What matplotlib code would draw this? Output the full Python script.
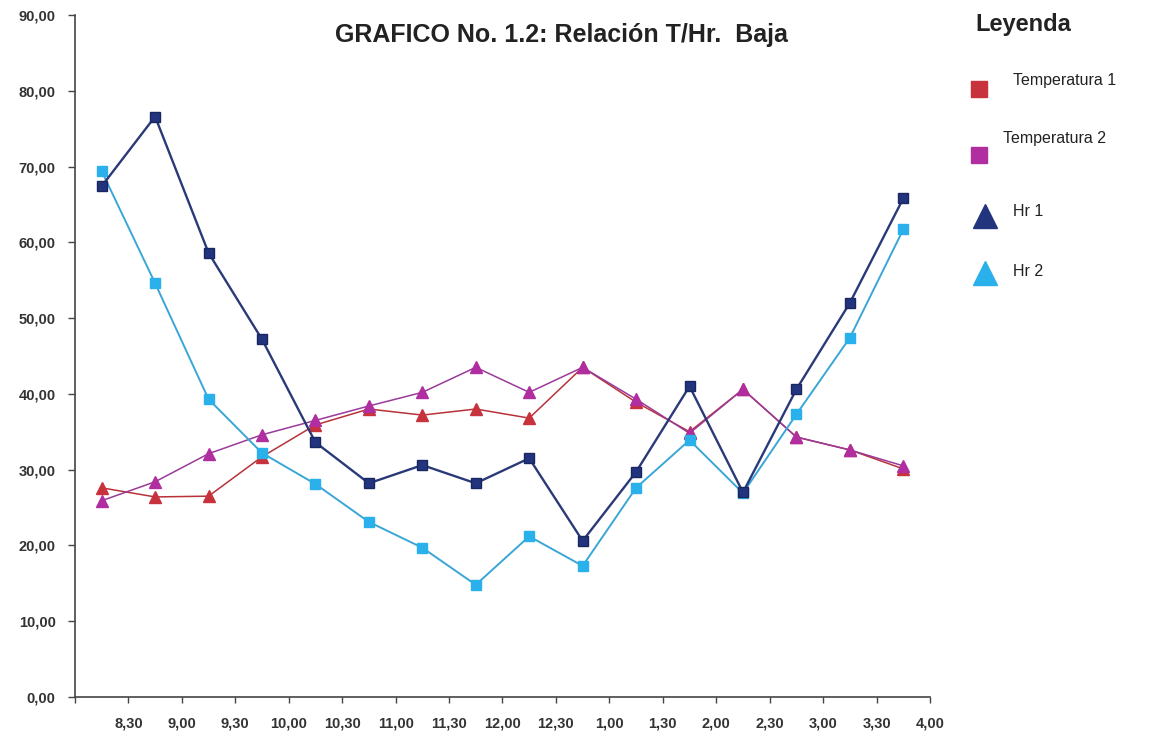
import matplotlib
matplotlib.use('Agg')
import matplotlib.pyplot as plt
import numpy as np

plt.rcParams['font.family'] = ['Liberation Sans', 'DejaVu Sans']

# datos
horas = ['8,30', '9,00', '9,30', '10,00', '10,30', '11,00', '11,30', '12,00',
         '12,30', '1,00', '1,30', '2,00', '2,30', '3,00', '3,30', '4,00']
temp1 = [27.6, 26.4, 26.5, 31.7, 35.9, 38.0, 37.2, 38.0,
         36.8, 43.5, 38.9, 35.0, 40.6, 34.3, 32.6, 30.1]
temp2 = [25.9, 28.4, 32.1, 34.6, 36.5, 38.4, 40.2, 43.5,
         40.2, 43.5, 39.3, 34.8, 40.6, 34.3, 32.6, 30.5]
hr1 = [67.4, 76.6, 58.6, 47.2, 33.6, 28.2, 30.6, 28.2,
       31.5, 20.6, 29.7, 41.0, 27.0, 40.6, 52.0, 65.8]
hr2 = [69.4, 54.6, 39.3, 32.2, 28.1, 23.1, 19.7, 14.8,
       21.2, 17.3, 27.6, 33.9, 26.9, 37.3, 47.4, 61.7]
yticks = [0, 10, 20, 30, 40, 50, 60, 70, 80, 90]

c_t1 = '#c8323c'
c_t2 = '#b02ea0'
c_h1 = '#22347e'
c_h2 = '#2ab0ea'

fig = plt.figure(figsize=(11.53, 7.41), dpi=100)
ax = fig.add_axes([0.065, 0.0594, 0.7416, 0.9204])

x = np.arange(len(horas)) + 0.5
ax.plot(x, temp1, color='#b8323a', lw=1.1, marker='^', ms=8, mfc=c_t1, mec=c_t1, zorder=3)
ax.plot(x, temp2, color='#9a3a9a', lw=1.1, marker='^', ms=8, mfc=c_t2, mec=c_t2, zorder=3)
ax.plot(x, hr2, color='#3aa6d6', lw=1.4, marker='s', ms=7, mfc=c_h2, mec=c_h2, zorder=4)
ax.plot(x, hr1, color='#2a3a78', lw=1.7, marker='s', ms=7, mfc=c_h1, mec='#1a2660', zorder=5)

ax.set_xlim(0, len(horas))
ax.set_ylim(0, 90)
ax.set_xticks(np.arange(len(horas) + 1))
ax.set_xticklabels([''] + horas, fontsize=10.5, fontweight='bold', color='#333333')
ax.set_yticks(yticks)
ax.set_yticklabels(['%d,00' % v for v in yticks], fontsize=10.5, fontweight='bold', color='#333333')
ax.tick_params(axis='x', length=4, width=1, color='#444444', pad=10)
ax.tick_params(axis='y', length=5, width=1, color='#444444', pad=9)
for s in ['top', 'right']:
    ax.spines[s].set_visible(False)
for s in ['left', 'bottom']:
    ax.spines[s].set_color('#444444')
    ax.spines[s].set_linewidth(1.2)

fig.text(0.487, 0.953, 'GRAFICO No. 1.2: Relación T/Hr.  Baja', ha='center', va='center',
         fontsize=18, fontweight='bold', color='#222222')

# leyenda dibujada a mano (coordenadas en pixeles de la figura)
lg = fig.add_axes([0, 0, 1, 1], facecolor='none')
lg.set_xlim(0, 1153)
lg.set_ylim(741, 0)
lg.axis('off')
lg.text(975, 24, 'Leyenda', fontsize=17, fontweight='bold', color='#222222', va='center')
lg.plot([979], [89], marker='s', ms=11, color=c_t1, ls='none')
lg.text(1013, 80, 'Temperatura 1', fontsize=11.5, color='#222222', va='center')
lg.plot([979], [155], marker='s', ms=11, color=c_t2, ls='none')
lg.text(1003, 139, 'Temperatura 2', fontsize=11.5, color='#222222', va='center')
lg.plot([985], [216], marker='^', ms=17, color=c_h1, ls='none')
lg.text(1013, 212, 'Hr 1', fontsize=11.5, color='#222222', va='center')
lg.plot([985], [273], marker='^', ms=17, color=c_h2, ls='none')
lg.text(1013, 271, 'Hr 2', fontsize=11.5, color='#222222', va='center')

fig.savefig('out.png', dpi=100)
